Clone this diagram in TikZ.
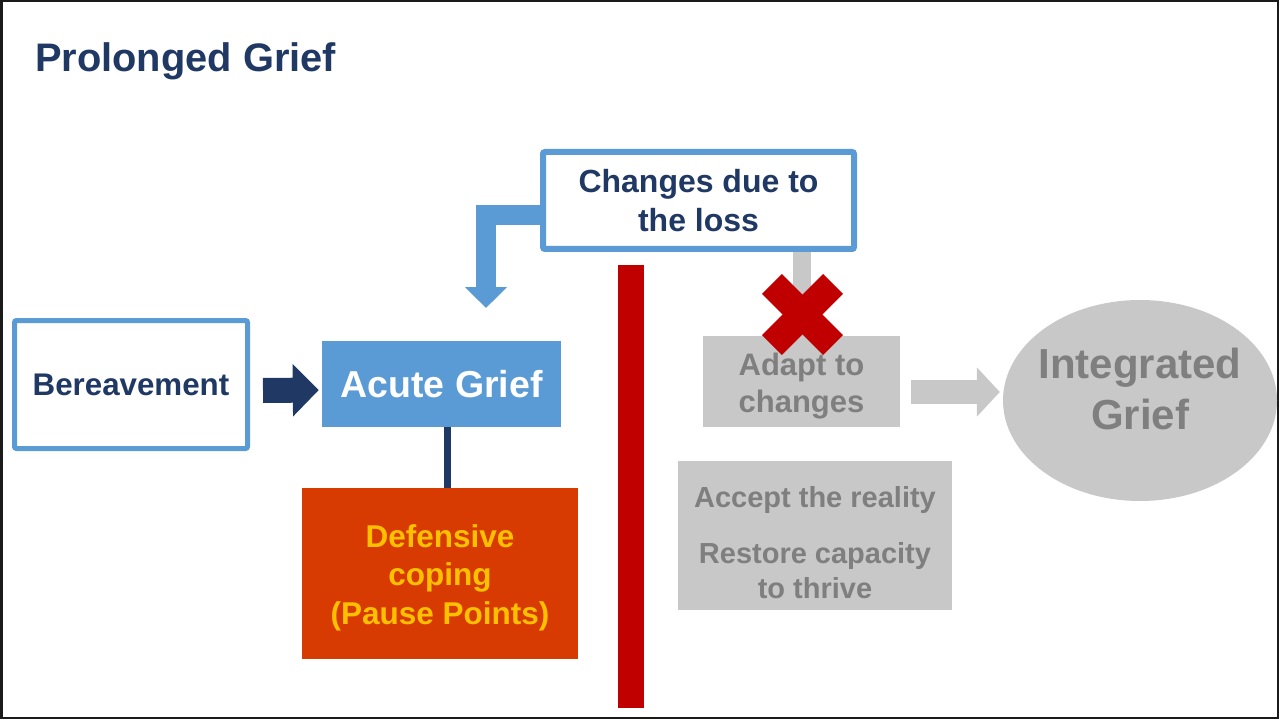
\documentclass[tikz,border=0pt]{standalone}
\usepackage{fontspec}
\setmainfont{Liberation Sans}
\usetikzlibrary{arrows.meta,shapes.geometric,calc}
\definecolor{navy}{HTML}{203864}
\definecolor{skyblue}{HTML}{5B9BD5}
\definecolor{burnt}{HTML}{D83B01}
\definecolor{gold}{HTML}{FFC000}
\definecolor{alarm}{HTML}{C00000}
\definecolor{mist}{HTML}{C8C8C8}
\definecolor{slate}{HTML}{7F7F7F}
\definecolor{framec}{HTML}{1A1A1A}
\begin{document}
\begin{tikzpicture}[x=1pt,y=-1pt,
  outlinebox/.style={draw=skyblue, fill=white, rounded corners=2pt, text=navy,
    inner sep=0pt, align=center},
  solidbox/.style={draw=none, inner sep=0pt, align=center},
  fadedbox/.style={solidbox, fill=mist, text=slate},
  plaintext/.style={inner sep=0pt, align=center},
  fadedtext/.style={plaintext, text=slate},
  bfs/.style 2 args={font=\fontsize{#1}{#2}\selectfont\bfseries}
]
\useasboundingbox (0,0) rectangle (1279,719);
\draw[framec, line width=2.5pt] (1.25,1.25) rectangle (1277.75,717.75);

% title
\node[anchor=base west, inner sep=0pt, text=navy, bfs={39.8}{46}] (title) at (35,72) {Prolonged Grief};

% main boxes
\node[outlinebox, line width=5pt, minimum width=233pt, minimum height=128pt, bfs={31.3}{37}]
  (bere) at (131,384.5) {Bereavement};
\node[solidbox, fill=skyblue, text=white, minimum width=239pt, minimum height=86pt, bfs={37.5}{44}]
  (acute) at (441.5,384) {Acute Grief};
\node[solidbox, fill=burnt, minimum width=276pt, minimum height=171pt] (def) at (440,573.5) {};
\node[plaintext, text=gold, bfs={31.5}{38.5}] (deftext) at ([yshift=-4pt]def.center)
  {Defensive\\coping\\(Pause Points)};
\node[outlinebox, line width=6pt, minimum width=311pt, minimum height=97pt, bfs={32}{39}]
  (changes) at (698.5,200.5) {Changes due to\\the loss};
\node[solidbox, fill=alarm, minimum width=26pt, minimum height=443pt] (barrier) at (631,486.5) {};

% gray connector under the cross
\draw[mist, line width=18pt] (changes.south -| 802,0) -- (802,336);

\node[fadedbox, minimum width=197pt, minimum height=91pt] (adapt) at (801.5,381.5) {};
\node[fadedtext, bfs={31}{37}] (adapttext) at ([yshift=-5pt]adapt.center) {Adapt to\\changes};
\node[fadedbox, minimum width=274pt, minimum height=149pt] (tasks) at (815,535.5) {};
\node[fadedtext, bfs={29}{35}] (taskstext) at ([yshift=-7pt]tasks.center)
  {Accept the reality\\[21pt]Restore capacity\\to thrive};
\node[ellipse, fill=mist, draw=none, inner sep=0pt, minimum width=274pt, minimum height=201pt]
  (integ) at (1140,400.5) {};
\node[fadedtext, bfs={42}{51}] (integtext) at ([yshift=12pt]integ.center) {Integrated\\Grief};

% connectors
\draw[navy, line width=25pt, -{Triangle[width=51pt,length=26pt]}]
  ([xshift=13pt,yshift=-6pt]bere.east) -- ([xshift=-3pt,yshift=-6pt]acute.west);
\draw[navy, line width=7pt] ([xshift=6pt]acute.south) -- ([xshift=6pt]acute.south |- def.north);
\coordinate (drop) at (486,308);
\draw[skyblue, line width=20pt, line join=miter, -{Triangle[width=41pt,length=21pt]}]
  ([yshift=-15pt]changes.west) -| (drop);
\coordinate (ga) at ([xshift=11pt,yshift=-10.5pt]adapt.east);
\draw[mist, line width=24pt, -{Triangle[width=48pt,length=23pt]}]
  (ga) -- ($(ga -| integ.west)+(-3,0)$);

% blocked path
\coordinate (cross) at (802.5,314.5);
\draw[alarm, line width=28pt] ([shift={(-30.6pt,30.6pt)}]cross) -- ([shift={(30.6pt,-30.6pt)}]cross);
\draw[alarm, line width=28pt] ([shift={(-30.6pt,-30.6pt)}]cross) -- ([shift={(30.6pt,30.6pt)}]cross);
\end{tikzpicture}
\end{document}
